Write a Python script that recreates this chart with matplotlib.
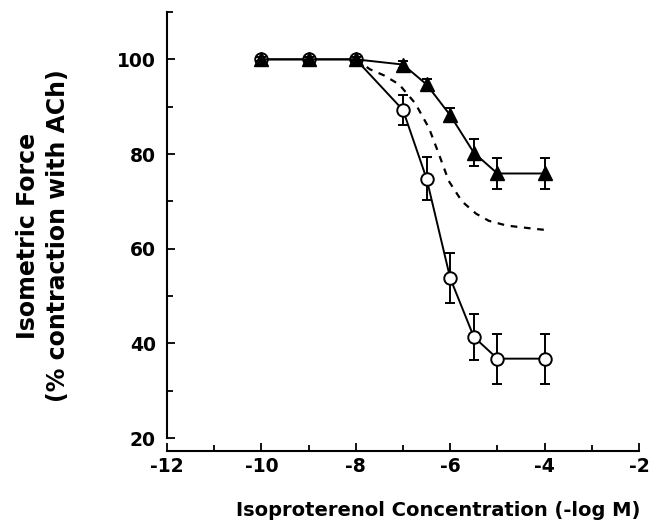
import numpy as np
import matplotlib
matplotlib.use("Agg")
import matplotlib.pyplot as plt
from matplotlib.ticker import MultipleLocator

# concentrations (log M)
conc = [-10, -9, -8, -7, -6.5, -6, -5.5, -5, -4]

# filled triangles
tri_force = [100, 100, 100, 98.9, 94.7, 88.2, 80.3, 75.9, 75.9]
tri_err = [0.4, 0.4, 0.4, 0.8, 1.2, 1.5, 2.8, 3.2, 3.2]

# open circles
circ_force = [100, 100, 100, 89.3, 74.8, 53.8, 41.4, 36.8, 36.8]
circ_err = [0.4, 0.4, 0.4, 3.2, 4.6, 5.3, 4.9, 5.3, 5.3]

# dashed curve
dash_x = [-8.0, -7.7, -7.4, -7.08, -6.74, -6.45, -6.24, -6.03, -5.75, -5.45, -5.18, -4.8, -4.2, -4.0]
dash_y = [100, 97.9, 96.6, 94.7, 90.7, 85.5, 80.0, 74.3, 70.0, 67.4, 65.9, 64.9, 64.2, 64.0]

plt.rcParams['font.family'] = 'DejaVu Sans'
plt.rcParams['font.weight'] = 'bold'

fig = plt.figure(figsize=(6.5, 5.31), dpi=100)
ax = fig.add_axes([167/650, 1-451/531, (639-167)/650, (451-12)/531])

ax.plot(dash_x, dash_y, color='black', linestyle=(0, (3, 3)), linewidth=1.6, zorder=2)

ax.errorbar(conc, circ_force, yerr=circ_err, color='black', linewidth=1.4,
            elinewidth=1.4, capsize=3.5, capthick=1.4, marker='o', markersize=9,
            markerfacecolor='white', markeredgecolor='black', markeredgewidth=1.4, zorder=3)
ax.errorbar(conc, tri_force, yerr=tri_err, color='black', linewidth=1.4,
            elinewidth=1.4, capsize=3.5, capthick=1.4, marker='^', markersize=9.5,
            markerfacecolor='black', markeredgecolor='black', zorder=4)

ax.set_xlim(-12, -2)
ax.set_ylim(17.3, 110)
ax.spines['top'].set_visible(False)
ax.spines['right'].set_visible(False)
ax.spines['left'].set_bounds(20, 110)
ax.spines['left'].set_linewidth(1.5)
ax.spines['bottom'].set_linewidth(1.5)

ax.set_xticks([-12, -10, -8, -6, -4, -2])
ax.set_xticklabels(['-12', '-10', '-8', '-6', '-4', '-2'])
ax.xaxis.set_minor_locator(MultipleLocator(1))
ax.set_yticks([20, 40, 60, 80, 100])
ax.yaxis.set_minor_locator(MultipleLocator(10))
ax.tick_params(which='both', direction='in', width=1.3, labelsize=13.5)
ax.tick_params(which='major', length=6)
ax.tick_params(which='minor', length=4)
ax.tick_params(axis='y', pad=8)
ax.tick_params(axis='x', pad=4)

ax.set_xlabel('Isoproterenol Concentration (-log M)', fontsize=14, fontweight='bold')
ax.xaxis.set_label_coords(0.575, -0.115)
ax.set_ylabel('Isometric Force\n(% contraction with ACh)', fontsize=17, fontweight='bold',
              linespacing=1.35)
ax.yaxis.set_label_coords(-0.205, 0.49)

fig.savefig('out.png', dpi=100)
